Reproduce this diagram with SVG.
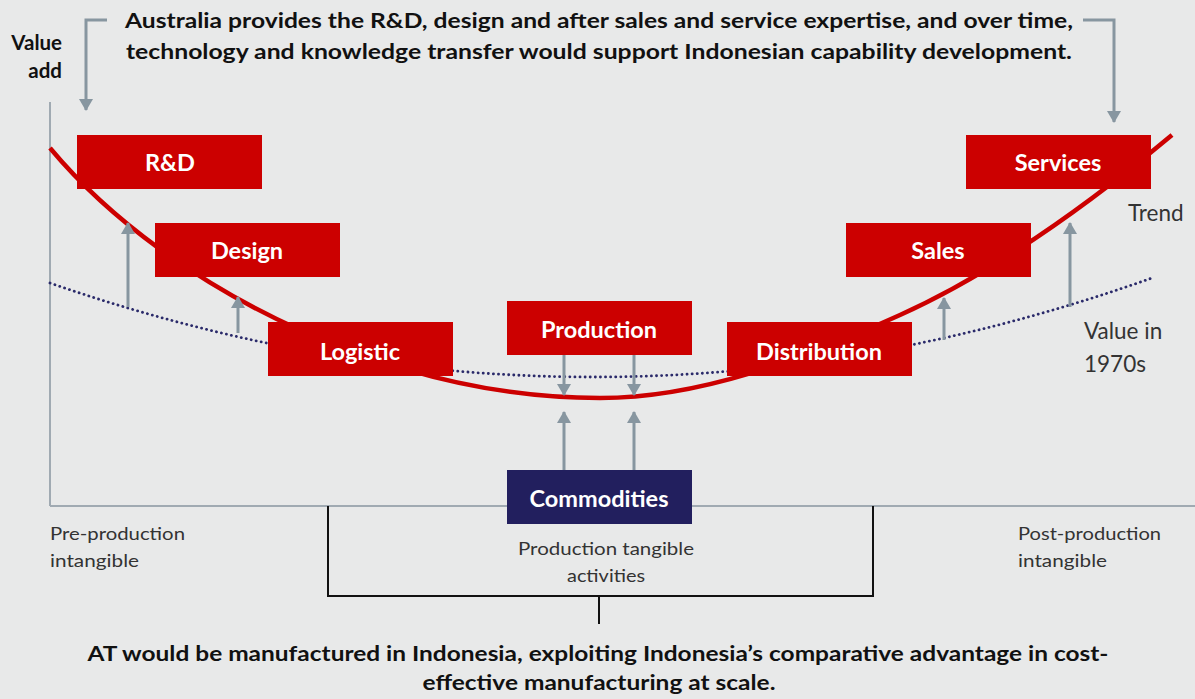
<svg xmlns="http://www.w3.org/2000/svg" width="1195" height="699" viewBox="0 0 1195 699">
<defs>
<marker id="ah" viewBox="0 0 12 14" refX="11" refY="7" markerWidth="12" markerHeight="14" markerUnits="userSpaceOnUse" orient="auto">
<path d="M0,0 L12,7 L0,14 Z" fill="#8796a0"/>
</marker>
<style>
.box{fill:#cc0000}
.lbl{font-family:Lato,"Open Sans",sans-serif;font-weight:bold;font-size:23.5px;fill:#fff;text-anchor:middle}
.hd{font-family:Lato,"Open Sans",sans-serif;font-weight:bold;font-size:20.5px;fill:#111}
.sm{font-family:Lato,"Open Sans",sans-serif;font-size:18px;fill:#333}
.md{font-family:Lato,"Open Sans",sans-serif;font-size:22.5px;fill:#333}
.arr{stroke:#8796a0;stroke-width:3;fill:none;marker-end:url(#ah)}
.axis{stroke:#a0aab2;stroke-width:2;fill:none}
</style>
</defs>
<rect width="1195" height="699" fill="#e8e9e9"/>
<g id="axes">
<line class="axis" x1="50" y1="102" x2="50" y2="506"/>
<line class="axis" x1="50" y1="506" x2="1195" y2="506"/>
<text class="hd" x="62" y="50" text-anchor="end" font-size="17">Value</text>
<text class="hd" x="62" y="78" text-anchor="end" font-size="17">add</text>
</g>
<g id="headline">
<text class="hd" x="599" y="28" text-anchor="middle" textLength="948" lengthAdjust="spacingAndGlyphs">Australia provides the R&amp;D, design and after sales and service expertise, and over time,</text>
<text class="hd" x="599" y="59" text-anchor="middle" textLength="946" lengthAdjust="spacingAndGlyphs">technology and knowledge transfer would support Indonesian capability development.</text>
</g>
<g id="curves">
<path d="M50,283 Q600,473.5 1152,278" fill="none" stroke="#2a2a6a" stroke-width="2.8" stroke-linecap="round" stroke-dasharray="0.1 5"/>
<path d="M50,148 C110,220 200,285 300,330 C400,375 500,398 600,398 C700,398 800,360 900,315 C1000,270 1100,195 1172,135" fill="none" stroke="#cc0000" stroke-width="4.5"/>
</g>
<g id="connectors">
<path class="arr" d="M107,20 H86 V110"/>
<path class="arr" d="M1083,20 H1114 V122"/>
<line class="arr" x1="128" y1="307" x2="128" y2="223"/>
<line class="arr" x1="238" y1="333" x2="238" y2="297"/>
<line class="arr" x1="564" y1="355" x2="564" y2="395"/>
<line class="arr" x1="634" y1="355" x2="634" y2="395"/>
<line class="arr" x1="564" y1="470" x2="564" y2="412"/>
<line class="arr" x1="634" y1="470" x2="634" y2="412"/>
<line class="arr" x1="944" y1="340" x2="944" y2="298"/>
<line class="arr" x1="1070" y1="307" x2="1070" y2="223"/>
<path d="M328,506 V596 H873 V506 M599,596 V624" fill="none" stroke="#111" stroke-width="2"/>
</g>
<g id="rd"><rect class="box" x="77" y="135" width="185" height="54"/><text class="lbl" x="170" y="171">R&amp;D</text></g>
<g id="design"><rect class="box" x="155" y="223" width="185" height="54"/><text class="lbl" x="247" y="259">Design</text></g>
<g id="logistic"><rect class="box" x="268" y="322" width="185" height="54"/><text class="lbl" x="360" y="360">Logistic</text></g>
<g id="production"><rect class="box" x="507" y="301" width="185" height="54"/><text class="lbl" x="599" y="338">Production</text></g>
<g id="distribution"><rect class="box" x="727" y="322" width="185" height="54"/><text class="lbl" x="819" y="360">Distribution</text></g>
<g id="sales"><rect class="box" x="846" y="223" width="185" height="54"/><text class="lbl" x="938" y="259">Sales</text></g>
<g id="services"><rect class="box" x="966" y="135" width="185" height="54"/><text class="lbl" x="1058" y="171">Services</text></g>
<g id="commodities"><rect x="507" y="470" width="185" height="54" fill="#221f5e"/><text class="lbl" x="599" y="507">Commodities</text></g>
<g id="labels">
<text class="md" x="1128" y="221">Trend</text>
<text class="md" x="1084" y="339">Value in</text>
<text class="md" x="1084" y="372">1970s</text>
<text class="sm" x="50" y="540" textLength="135" lengthAdjust="spacingAndGlyphs">Pre-production</text>
<text class="sm" x="50" y="567" textLength="89" lengthAdjust="spacingAndGlyphs">intangible</text>
<text class="sm" x="606" y="555" text-anchor="middle" textLength="176" lengthAdjust="spacingAndGlyphs">Production tangible</text>
<text class="sm" x="606" y="582" text-anchor="middle" textLength="78" lengthAdjust="spacingAndGlyphs">activities</text>
<text class="sm" x="1018" y="540" textLength="143" lengthAdjust="spacingAndGlyphs">Post-production</text>
<text class="sm" x="1018" y="567" textLength="89" lengthAdjust="spacingAndGlyphs">intangible</text>
</g>
<g id="footer">
<text class="hd" x="598" y="661" text-anchor="middle" font-size="19.5" textLength="1021" lengthAdjust="spacingAndGlyphs">AT would be manufactured in Indonesia, exploiting Indonesia’s comparative advantage in cost-</text>
<text class="hd" x="599" y="690" text-anchor="middle" font-size="19.5" textLength="353" lengthAdjust="spacingAndGlyphs">effective manufacturing at scale.</text>
</g>
</svg>
